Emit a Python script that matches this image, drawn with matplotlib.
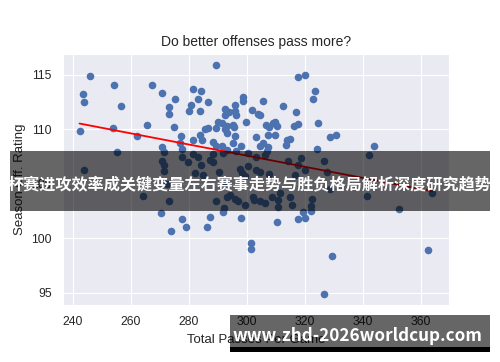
import numpy as np
import matplotlib
matplotlib.use("Agg")
import matplotlib.pyplot as plt
import seaborn as sns
from matplotlib.patches import Rectangle

# total passes per game vs season offensive rating
passes = [
    246.0, 254.2, 243.4, 243.8, 256.5, 267.3, 270.9, 275.2, 273.2, 273.3,
    242.3, 254.0, 265.4, 262.2, 275.0, 277.3, 277.0, 270.9, 255.2, 271.4,
    277.8, 289.5, 281.4, 284.3, 283.0, 286.6, 280.6, 280.1, 283.9, 298.7,
    298.5, 296.0, 292.4, 294.0, 296.0, 296.2, 292.3, 301.6, 303.7, 304.6,
    305.4, 312.3, 316.8, 299.7, 308.9, 290.2, 291.5, 289.4, 286.5, 285.6,
    293.0, 292.4, 293.1, 295.3, 295.7, 295.9, 306.6, 307.5, 309.7, 310.5,
    316.1, 317.8, 283.8, 281.4, 284.6, 288.4, 289.2, 291.5, 295.3, 297.9,
    303.3, 307.2, 309.6, 305.5, 304.5, 307.4, 313.9, 314.8, 313.4, 317.5,
    320.1, 323.4, 322.7, 324.6, 328.6, 330.6, 324.3, 343.9, 293.0, 296.4,
    306.8,
    243.7, 264.1, 270.7, 271.3, 271.4, 272.3, 273.0, 277.6, 279.7, 281.4,
    282.1, 284.9, 283.3, 284.3, 287.2, 288.4, 290.3, 292.4, 294.1, 295.9,
    297.0, 299.4, 289.3, 300.4, 297.6, 298.4, 299.3, 288.4, 291.8, 300.4,
    303.3, 306.2, 314.1, 318.6, 326.6, 317.5, 320.0, 327.5, 307.6, 316.7,
    303.3, 304.7, 293.0, 302.2, 304.5, 302.4, 306.2, 308.5, 310.8, 310.8,
    315.6, 322.3, 322.0, 328.7, 341.5, 363.8, 342.2, 311.4, 314.8,
    270.3, 277.5, 279.0, 274.0, 286.2, 287.2, 291.6, 292.2, 297.9, 310.3,
    317.5, 319.4, 320.1, 322.1, 352.3, 301.5, 301.5, 329.3, 326.5, 362.4,
]
off_rating = [
    114.9, 114.1, 113.2, 112.5, 112.1, 114.1, 113.3, 112.8, 112.0, 111.4,
    109.8, 110.1, 110.4, 109.4, 110.2, 109.4, 108.7, 108.4, 107.9, 107.9,
    108.2, 115.9, 113.7, 113.5, 112.8, 112.5, 112.2, 111.7, 111.7, 113.0,
    112.6, 112.2, 111.9, 111.6, 111.7, 111.3, 111.3, 111.8, 111.4, 111.3,
    112.6, 112.1, 111.6, 110.7, 110.6, 110.7, 110.6, 110.1, 110.1, 110.0,
    110.3, 110.0, 109.7, 110.4, 110.2, 109.4, 110.4, 110.2, 110.7, 110.3,
    110.3, 110.5, 109.5, 109.0, 109.0, 108.8, 108.5, 108.5, 108.7, 108.5,
    109.3, 109.5, 109.5, 108.7, 108.5, 108.4, 109.0, 109.1, 108.6, 114.8,
    115.0, 113.5, 112.8, 110.6, 109.3, 109.5, 108.2, 108.5, 108.1, 108.0,
    108.0,
    106.3, 103.9, 107.1, 106.7, 106.2, 105.0, 103.4, 107.5, 107.0, 107.7,
    106.0, 105.8, 107.5, 106.7, 107.2, 107.0, 106.1, 105.1, 104.0, 103.6,
    103.4, 103.1, 103.4, 106.6, 106.4, 106.0, 105.7, 107.7, 107.8, 107.8,
    107.5, 107.6, 107.1, 107.4, 107.1, 106.7, 106.3, 106.1, 105.9, 105.8,
    106.3, 106.1, 103.8, 103.8, 103.4, 103.5, 103.2, 103.8, 103.5, 102.9,
    103.1, 103.6, 103.0, 104.5, 103.9, 104.2, 107.6, 104.2, 103.8,
    102.3, 101.8, 101.0, 100.7, 101.0, 102.0, 102.4, 102.8, 101.9, 101.5,
    101.8, 102.4, 101.9, 102.5, 102.7, 99.6, 99.0, 98.4, 94.9, 98.9,
]

x_ticks = [240, 260, 280, 300, 320, 340, 360]
y_ticks = [95, 100, 105, 110, 115]
banner_text = "杯赛进攻效率成关键变量左右赛事走势与胜负格局解析深度研究趋势"
url_text = "www.zhd-2026worldcup.com"

sns.set_style("darkgrid")
plt.rcParams['font.family'] = ['Liberation Sans', 'DejaVu Sans']

fig = plt.figure(figsize=(5, 3.62), dpi=100)
ax = fig.add_axes([0.126, 0.1575, 0.772, 0.6935])

sns.regplot(x=np.array(passes), y=np.array(off_rating), ax=ax, ci=None,
            color='#4C72B0',
            scatter_kws={'s': 30, 'linewidths': 0, 'alpha': 1},
            line_kws={'color': 'red', 'lw': 1.3})

ax.set_xlim(236.6, 369.7)
ax.set_ylim(93.9, 116.9)
ax.set_xticks(x_ticks)
ax.set_yticks(y_ticks)
ax.tick_params(length=0, pad=8, labelsize=8.8, colors='#262626')
ax.set_title("Do better offenses pass more?", fontsize=10, color='#262626')
ax.set_xlabel("Total Passes Per Game", fontsize=9.5, color='#262626')
ax.set_ylabel("Season Off. Rating", fontsize=9.5, color='#262626')

# watermark overlays
fig.add_artist(Rectangle((0.02, 0.417), 0.96, 0.166, transform=fig.transFigure,
                         facecolor='black', alpha=0.6, edgecolor='none'))
fig.text(0.5, 0.492, banner_text, ha='center', va='center', color='white',
         fontsize=11.6, fontweight='bold',
         family=['Noto Sans CJK SC', 'DejaVu Sans'])
fig.add_artist(Rectangle((0.46, 0.0414), 0.52, 0.0884, transform=fig.transFigure,
                         facecolor='black', alpha=0.6, edgecolor='none'))
fig.add_artist(Rectangle((0.46, 0.0276), 0.52, 0.0138, transform=fig.transFigure,
                         facecolor='black', edgecolor='none'))
fig.text(0.714, 0.072, url_text, ha='center', va='center', color='white',
         fontsize=12.3, fontweight='bold',
         family=['Noto Sans CJK SC', 'DejaVu Sans'])

fig.savefig("out.png", dpi=100)
